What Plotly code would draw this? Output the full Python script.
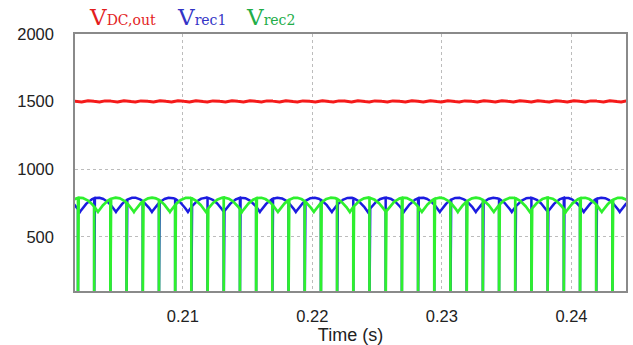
import numpy as np
import plotly.graph_objects as go

# ---- time window (s) ----
T_START, T_END = 0.20168, 0.24421
X_TICKS = [0.21, 0.22, 0.23, 0.24]
Y_TICKS = [500, 1000, 1500, 2000]
Y_RANGE = [100, 2000]

# ---- rectifier bridge outputs (6-pulse, 30 deg apart) ----
LINE_FREQ = 60.0                      # Hz on the AC side
VREC_PEAK = [790.0, 790.0]            # V, crest of Vrec1 / Vrec2
VREC_CREST_TIME = [0.20345, 0.20484]  # s, one crest instant of Vrec1 / Vrec2

# ---- DC output ----
VDC_LEVEL = 1500.0     # V
VDC_RIPPLE_PP = 12.0   # V peak-to-peak, 12-pulse ripple

# ---- instants where both bridge outputs collapse to zero (s) ----
NOTCH_TIMES = [
    0.20191, 0.20316, 0.20441, 0.20566, 0.20691, 0.20816, 0.20941, 0.21066,
    0.21191, 0.21316, 0.21441, 0.21566, 0.21691, 0.21816, 0.21941, 0.22066,
    0.22191, 0.22316, 0.22441, 0.22566, 0.22691, 0.22816, 0.22941, 0.23066,
    0.23191, 0.23316, 0.23441, 0.23566, 0.23691, 0.23816, 0.23941, 0.24066,
    0.24191, 0.24316,
]

T_RIPPLE6 = 1.0 / (6 * LINE_FREQ)


def six_pulse(t, peak, crest):
    """Envelope of the six line-to-line voltages of a diode bridge."""
    u = (t - crest) / T_RIPPLE6
    d = u - np.round(u)
    return peak * np.cos(d * np.pi / 3)


def notched_series(peak, crest):
    grid = np.linspace(T_START - 5e-4, T_END + 5e-4, 14000)
    tn = np.asarray(NOTCH_TIMES)
    t_all = np.concatenate([grid, tn, tn, tn])
    tag = np.concatenate([np.zeros(grid.size), np.full(tn.size, 1),
                          np.full(tn.size, 2), np.full(tn.size, 3)])
    order = np.lexsort((tag, t_all))
    t_s, tag_s = t_all[order], tag[order]
    v = six_pulse(t_s, peak, crest)
    v[tag_s == 2] = 0.0
    return t_s, v


# 12-pulse DC output: small cusp ripple around the DC level
t_dc = np.linspace(T_START - 5e-4, T_END + 5e-4, 8000)
u12 = (t_dc - VREC_CREST_TIME[0]) / (T_RIPPLE6 / 2) + 0.5
d12 = u12 - np.round(u12)
shape12 = (np.cos(d12 * np.pi / 6) - np.cos(np.pi / 12)) / (1 - np.cos(np.pi / 12))
v_dc = VDC_LEVEL - VDC_RIPPLE_PP / 2 + VDC_RIPPLE_PP * shape12

t1, v1 = notched_series(VREC_PEAK[0], VREC_CREST_TIME[0])
t2, v2 = notched_series(VREC_PEAK[1], VREC_CREST_TIME[1])

RED, BLUE, GREEN = "#f51a1a", "#1c1ce0", "#2ef02e"

fig = go.Figure()
fig.add_trace(go.Scatter(x=t_dc, y=v_dc, mode="lines",
                         line=dict(color=RED, width=3), name="VDC,out"))
fig.add_trace(go.Scatter(x=t1, y=v1, mode="lines",
                         line=dict(color=BLUE, width=2.5), name="Vrec1"))
fig.add_trace(go.Scatter(x=t2, y=v2, mode="lines",
                         line=dict(color=GREEN, width=2.7), name="Vrec2"))

axis_style = dict(
    showgrid=True, gridcolor="#bcbcbc", griddash="dot", gridwidth=1,
    showline=True, linecolor="#8a8a8a", linewidth=1.5, mirror=True,
    ticks="", zeroline=False,
)

fig.update_xaxes(range=[T_START, T_END], tickvals=X_TICKS, tickformat=".2f",
                 ticklabelstandoff=9,
                 title=dict(text="Time (s)", standoff=3,
                            font=dict(size=18, color="#222")),
                 **axis_style)
fig.update_yaxes(range=Y_RANGE, tickvals=Y_TICKS, ticklabelstandoff=16,
                 **axis_style)

PLOT_L, PLOT_W, PLOT_T, PLOT_H = 75, 553, 34, 259


def px_to_paper(x, y):
    return (x - PLOT_L) / PLOT_W, 1 + (PLOT_T - y) / PLOT_H


legend_items = [
    ("DC,out", "#e31e1e", 87),
    ("rec1", "#3434c6", 175),
    ("rec2", "#22ad48", 245),
]
for sub, col, xpx in legend_items:
    ax, ay = px_to_paper(xpx, 17)
    fig.add_annotation(
        x=ax, y=ay, xref="paper", yref="paper", xanchor="left", yanchor="middle",
        showarrow=False,
        text=f"V<span style='font-size:14px'>{sub}</span>",
        font=dict(family="DejaVu Serif", size=23, color=col),
    )

fig.update_layout(
    width=633, height=345,
    margin=dict(l=PLOT_L, r=633 - PLOT_L - PLOT_W, t=PLOT_T, b=345 - PLOT_T - PLOT_H),
    plot_bgcolor="white", paper_bgcolor="white", showlegend=False,
    font=dict(family="Liberation Sans, Arial, sans-serif", size=16.5, color="#222"),
)

fig.write_html("out.html")
